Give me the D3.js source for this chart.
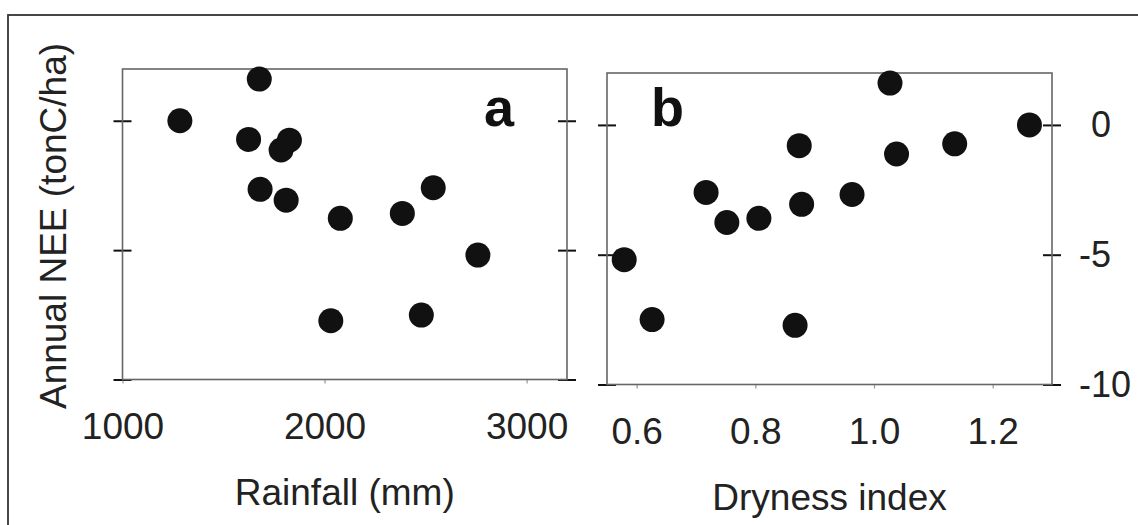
<!DOCTYPE html>
<html>
<head>
<meta charset="utf-8">
<script src="https://d3js.org/d3.v7.min.js"></script>
<style>
  body { margin: 0; background: #fff; }
  svg { display: block; font-family: "Liberation Sans", Arial, sans-serif; }
  .box { fill: none; stroke: #666; stroke-width: 1.6; }
  .yt line { stroke: #111; stroke-width: 2; }
  .xt line { stroke: #999; stroke-width: 1.2; }
  .yt path, .xt path { display: none; }
  .xt text, .yt text { fill: #222; font-size: 37px; }
</style>
</head>
<body>
<script>
// panel a: rainfall (mm) vs annual NEE (tonC/ha)
var rainfall = [1284, 1677, 1624, 1785, 1826, 1681, 1810, 2078, 2385, 2538, 2759, 2031, 2479];
var neeA     = [0.0, 1.61, -0.72, -1.13, -0.75, -2.65, -3.07, -3.77, -3.58, -2.59, -5.19, -7.73, -7.51];

// panel b: dryness index vs annual NEE
var dryness = [1.027, 1.262, 0.874, 1.038, 1.136, 0.717, 0.752, 0.806, 0.878, 0.963, 0.579, 0.626, 0.867];
var neeB    = [1.61, 0.0, -0.80, -1.12, -0.73, -2.60, -3.76, -3.60, -3.06, -2.68, -5.19, -7.50, -7.72];

var rainTicks = [1000, 2000, 3000];
var dryTicks = [0.6, 0.8, 1.0, 1.2];
var neeTicks = [-10, -5, 0];

var W = 1138, H = 525;

var svg = d3.select("body").append("svg")
    .attr("width", W)
    .attr("height", H);

// outer frame (runs off the right and bottom edges)
svg.append("rect")
    .attr("x", 8).attr("y", 15)
    .attr("width", W + 20).attr("height", H + 20)
    .attr("fill", "none")
    .attr("stroke", "#333")
    .attr("stroke-width", 1.8);

function panel(opts) {
  var x = d3.scaleLinear().domain(opts.xDomain).range([opts.left, opts.right]);
  var y = d3.scaleLinear().domain([-10, 2]).range([opts.bottom, opts.top]);

  // x axis ticks + labels
  svg.append("g")
      .attr("class", "xt")
      .attr("transform", "translate(0," + opts.bottom + ")")
      .call(d3.axisBottom(x).tickValues(opts.xTicks).tickSize(4).tickPadding(29)
            .tickFormat(opts.xFormat));

  // y ticks crossing both sides of the box
  [opts.left, opts.right].forEach(function(px) {
    svg.append("g").attr("class", "yt")
        .attr("transform", "translate(" + px + ",0)")
        .call(d3.axisLeft(y).tickValues(neeTicks).tickSize(9).tickFormat(""));
    svg.append("g").attr("class", "yt")
        .attr("transform", "translate(" + px + ",0)")
        .call(d3.axisLeft(y).tickValues(neeTicks).tickSize(-9).tickFormat(""));
  });

  svg.append("rect")
      .attr("class", "box")
      .attr("x", opts.left).attr("y", opts.top)
      .attr("width", opts.right - opts.left)
      .attr("height", opts.bottom - opts.top);

  svg.append("g")
    .selectAll("circle")
    .data(opts.xs.map(function(v, i) { return [v, opts.ys[i]]; }))
    .join("circle")
      .attr("cx", function(d) { return x(d[0]); })
      .attr("cy", function(d) { return y(d[1]); })
      .attr("r", 12.5)
      .attr("fill", "#111");

  svg.append("text")
      .attr("x", opts.tagX).attr("y", 126)
      .attr("font-size", 54)
      .attr("font-weight", "bold")
      .attr("fill", "#111")
      .text(opts.tag);

  svg.append("text")
      .attr("x", (opts.left + opts.right) / 2)
      .attr("y", opts.titleY)
      .attr("text-anchor", "middle")
      .attr("font-size", 37)
      .attr("fill", "#222")
      .text(opts.title);

  return y;
}

panel({
  left: 122.5, right: 567, top: 69, bottom: 379.5,
  xDomain: [1000, 3200], xTicks: rainTicks, xFormat: d3.format("d"),
  xs: rainfall, ys: neeA, tag: "a", tagX: 484,
  title: "Rainfall (mm)", titleY: 505
});

var yb = panel({
  left: 607, right: 1052, top: 73, bottom: 384.5,
  xDomain: [0.55, 1.3], xTicks: dryTicks, xFormat: d3.format(".1f"),
  xs: dryness, ys: neeB, tag: "b", tagX: 651,
  title: "Dryness index", titleY: 510
});

// NEE labels on the far right, plain hyphen, minus sign hanging to the left
var rightAxis = svg.append("g")
    .attr("class", "yt")
    .attr("transform", "translate(1052,0)")
    .call(d3.axisRight(yb).tickValues(neeTicks).tickSize(0).tickPadding(27)
          .tickFormat(function(d) { return String(d); }));
rightAxis.selectAll("text")
    .style("font-size", "36px")
    .attr("dx", function(d) { return d >= 0 ? 12 : 0; });

svg.append("text")
    .attr("transform", "translate(66,226) rotate(-90)")
    .attr("text-anchor", "middle")
    .attr("font-size", 37)
    .attr("fill", "#222")
    .text("Annual NEE (tonC/ha)");
</script>
</body>
</html>
